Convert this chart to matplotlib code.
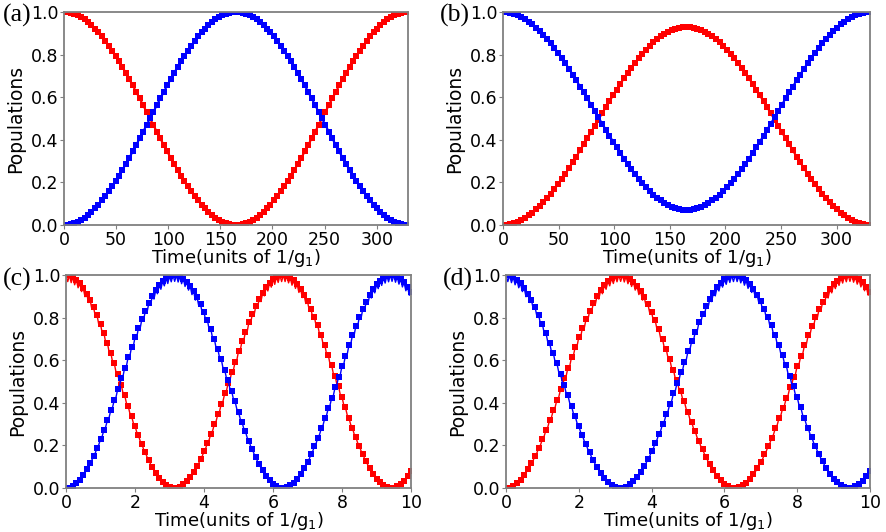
import numpy as np
import matplotlib
matplotlib.use("Agg")
import matplotlib.pyplot as plt

# panel (a): populations vs time (units of 1/g1), 101 samples on 0..330
t_ab = np.linspace(0, 330, 101)
red_a = [1.000, 0.999, 0.996, 0.991, 0.984, 0.976, 0.965, 0.952, 0.938, 0.922,
         0.905, 0.885, 0.864, 0.842, 0.819, 0.794, 0.768, 0.741, 0.713, 0.684,
         0.655, 0.624, 0.594, 0.563, 0.531, 0.500, 0.469, 0.437, 0.406, 0.376,
         0.345, 0.316, 0.287, 0.259, 0.232, 0.206, 0.181, 0.158, 0.136, 0.115,
         0.095, 0.078, 0.062, 0.048, 0.035, 0.024, 0.016, 0.009, 0.004, 0.001,
         0.000, 0.001, 0.004, 0.009, 0.016, 0.024, 0.035, 0.048, 0.062, 0.078,
         0.095, 0.115, 0.136, 0.158, 0.181, 0.206, 0.232, 0.259, 0.287, 0.316,
         0.345, 0.376, 0.406, 0.437, 0.469, 0.500, 0.531, 0.563, 0.594, 0.624,
         0.655, 0.684, 0.713, 0.741, 0.768, 0.794, 0.819, 0.842, 0.864, 0.885,
         0.905, 0.922, 0.938, 0.952, 0.965, 0.976, 0.984, 0.991, 0.996, 0.999,
         1.000]
blue_a = [0.000, 0.001, 0.004, 0.009, 0.016, 0.024, 0.035, 0.048, 0.062, 0.078,
          0.095, 0.115, 0.136, 0.158, 0.181, 0.206, 0.232, 0.259, 0.287, 0.316,
          0.345, 0.376, 0.406, 0.437, 0.469, 0.500, 0.531, 0.563, 0.594, 0.624,
          0.655, 0.684, 0.713, 0.741, 0.768, 0.794, 0.819, 0.842, 0.864, 0.885,
          0.905, 0.922, 0.938, 0.952, 0.965, 0.976, 0.984, 0.991, 0.996, 0.999,
          1.000, 0.999, 0.996, 0.991, 0.984, 0.976, 0.965, 0.952, 0.938, 0.922,
          0.905, 0.885, 0.864, 0.842, 0.819, 0.794, 0.768, 0.741, 0.713, 0.684,
          0.655, 0.624, 0.594, 0.563, 0.531, 0.500, 0.469, 0.437, 0.406, 0.376,
          0.345, 0.316, 0.287, 0.259, 0.232, 0.206, 0.181, 0.158, 0.136, 0.115,
          0.095, 0.078, 0.062, 0.048, 0.035, 0.024, 0.016, 0.009, 0.004, 0.001,
          0.000]

# panel (b)
red_b = [0.000, 0.001, 0.004, 0.008, 0.015, 0.022, 0.033, 0.045, 0.058, 0.073,
         0.088, 0.107, 0.126, 0.147, 0.168, 0.192, 0.216, 0.241, 0.267, 0.294,
         0.321, 0.350, 0.378, 0.406, 0.436, 0.465, 0.494, 0.524, 0.552, 0.580,
         0.609, 0.636, 0.663, 0.689, 0.714, 0.738, 0.762, 0.783, 0.804, 0.823,
         0.842, 0.857, 0.872, 0.885, 0.897, 0.908, 0.915, 0.922, 0.926, 0.929,
         0.930, 0.929, 0.926, 0.922, 0.915, 0.908, 0.897, 0.885, 0.872, 0.857,
         0.842, 0.823, 0.804, 0.783, 0.762, 0.738, 0.714, 0.689, 0.663, 0.636,
         0.609, 0.580, 0.552, 0.524, 0.494, 0.465, 0.436, 0.406, 0.378, 0.350,
         0.321, 0.294, 0.267, 0.241, 0.216, 0.192, 0.168, 0.147, 0.126, 0.107,
         0.088, 0.073, 0.058, 0.045, 0.033, 0.022, 0.015, 0.008, 0.004, 0.001,
         0.000]
blue_b = [1.000, 0.999, 0.996, 0.992, 0.985, 0.978, 0.967, 0.955, 0.942, 0.927,
          0.912, 0.893, 0.874, 0.853, 0.832, 0.808, 0.784, 0.759, 0.733, 0.706,
          0.679, 0.650, 0.622, 0.594, 0.564, 0.535, 0.506, 0.476, 0.448, 0.420,
          0.391, 0.364, 0.337, 0.311, 0.286, 0.262, 0.238, 0.217, 0.196, 0.177,
          0.158, 0.143, 0.128, 0.115, 0.103, 0.092, 0.085, 0.078, 0.074, 0.071,
          0.070, 0.071, 0.074, 0.078, 0.085, 0.092, 0.103, 0.115, 0.128, 0.143,
          0.158, 0.177, 0.196, 0.217, 0.238, 0.262, 0.286, 0.311, 0.337, 0.364,
          0.391, 0.420, 0.448, 0.476, 0.506, 0.535, 0.564, 0.594, 0.622, 0.650,
          0.679, 0.706, 0.733, 0.759, 0.784, 0.808, 0.832, 0.853, 0.874, 0.893,
          0.912, 0.927, 0.942, 0.955, 0.967, 0.978, 0.985, 0.992, 0.996, 0.999,
          1.000]

# panels (c)/(d): markers on 0..10 (step 0.1), line also has the fast dips in between
t_cd = np.linspace(0, 10, 101)
t_cd_line = np.linspace(0, 10, 201)
pop1 = [1.000, 0.998, 0.990, 0.978, 0.961, 0.939, 0.913, 0.882, 0.848, 0.811,
        0.770, 0.727, 0.681, 0.634, 0.585, 0.535, 0.485, 0.436, 0.386, 0.338,
        0.292, 0.248, 0.206, 0.167, 0.131, 0.099, 0.072, 0.048, 0.029, 0.015,
        0.005, 0.000, 0.001, 0.006, 0.017, 0.032, 0.052, 0.076, 0.105, 0.137,
        0.173, 0.213, 0.255, 0.300, 0.346, 0.395, 0.444, 0.494, 0.544, 0.593,
        0.642, 0.689, 0.734, 0.777, 0.817, 0.854, 0.888, 0.917, 0.943, 0.964,
        0.980, 0.992, 0.998, 1.000, 0.997, 0.988, 0.975, 0.957, 0.935, 0.908,
        0.877, 0.842, 0.804, 0.763, 0.719, 0.673, 0.626, 0.577, 0.527, 0.477,
        0.427, 0.378, 0.330, 0.284, 0.240, 0.199, 0.161, 0.126, 0.094, 0.067,
        0.044, 0.026, 0.013, 0.004, 0.000, 0.001, 0.008, 0.019, 0.035, 0.055,
        0.080]
pop1_dip = [0.969, 0.964, 0.954, 0.940, 0.922, 0.898, 0.871, 0.839, 0.805, 0.767,
            0.726, 0.683, 0.638, 0.591, 0.543, 0.495, 0.447, 0.399, 0.351, 0.306,
            0.262, 0.220, 0.181, 0.145, 0.112, 0.083, 0.058, 0.037, 0.021, 0.010,
            0.002, 0.000, 0.003, 0.011, 0.024, 0.041, 0.062, 0.088, 0.117, 0.150,
            0.187, 0.227, 0.269, 0.313, 0.359, 0.407, 0.455, 0.503, 0.551, 0.599,
            0.646, 0.690, 0.733, 0.773, 0.810, 0.845, 0.875, 0.902, 0.925, 0.943,
            0.956, 0.965, 0.969, 0.969, 0.963, 0.952, 0.937, 0.918, 0.894, 0.866,
            0.834, 0.798, 0.760, 0.719, 0.675, 0.630, 0.583, 0.535, 0.487, 0.438,
            0.390, 0.343, 0.298, 0.254, 0.213, 0.175, 0.139, 0.107, 0.078, 0.054,
            0.034, 0.019, 0.008, 0.002, 0.000, 0.004, 0.013, 0.026, 0.044, 0.065]
pop2 = [0.000, 0.002, 0.010, 0.022, 0.039, 0.061, 0.087, 0.118, 0.152, 0.189,
        0.230, 0.273, 0.319, 0.366, 0.415, 0.465, 0.515, 0.564, 0.614, 0.662,
        0.708, 0.752, 0.794, 0.833, 0.869, 0.901, 0.928, 0.952, 0.971, 0.985,
        0.995, 1.000, 0.999, 0.994, 0.983, 0.968, 0.948, 0.924, 0.895, 0.863,
        0.827, 0.787, 0.745, 0.700, 0.654, 0.605, 0.556, 0.506, 0.456, 0.407,
        0.358, 0.311, 0.266, 0.223, 0.183, 0.146, 0.112, 0.083, 0.057, 0.036,
        0.020, 0.008, 0.002, 0.000, 0.003, 0.012, 0.025, 0.043, 0.065, 0.092,
        0.123, 0.158, 0.196, 0.237, 0.281, 0.327, 0.374, 0.423, 0.473, 0.523,
        0.573, 0.622, 0.670, 0.716, 0.760, 0.801, 0.839, 0.874, 0.906, 0.933,
        0.956, 0.974, 0.987, 0.996, 1.000, 0.999, 0.992, 0.981, 0.965, 0.945,
        0.920]
pop2_dip = [0.001, 0.006, 0.016, 0.030, 0.049, 0.072, 0.099, 0.131, 0.165, 0.203,
            0.244, 0.287, 0.332, 0.379, 0.427, 0.475, 0.523, 0.571, 0.619, 0.664,
            0.708, 0.750, 0.789, 0.825, 0.858, 0.887, 0.912, 0.933, 0.949, 0.960,
            0.968, 0.970, 0.967, 0.959, 0.946, 0.929, 0.908, 0.882, 0.853, 0.820,
            0.783, 0.743, 0.701, 0.657, 0.611, 0.563, 0.515, 0.467, 0.419, 0.371,
            0.324, 0.280, 0.237, 0.197, 0.160, 0.125, 0.095, 0.068, 0.045, 0.027,
            0.014, 0.005, 0.001, 0.001, 0.007, 0.018, 0.033, 0.052, 0.076, 0.104,
            0.136, 0.172, 0.210, 0.251, 0.295, 0.340, 0.387, 0.435, 0.483, 0.532,
            0.580, 0.627, 0.672, 0.716, 0.757, 0.795, 0.831, 0.863, 0.892, 0.916,
            0.936, 0.951, 0.962, 0.968, 0.970, 0.966, 0.957, 0.944, 0.926, 0.905]

ticks_ab = [0, 50, 100, 150, 200, 250, 300]
ticks_cd = [0, 2, 4, 6, 8, 10]
y_ticks = [0.0, 0.2, 0.4, 0.6, 0.8, 1.0]


def interleave(pts, dips):
    out = np.empty(len(pts) + len(dips))
    out[0::2] = pts
    out[1::2] = dips
    return out


def style_axis(ax, xmax, xticks):
    ax.set_xlim(0, xmax)
    ax.set_ylim(0, 1.0)
    ax.set_xticks(xticks)
    ax.set_yticks(y_ticks)
    ax.set_yticklabels(['%.1f' % v for v in y_ticks])
    for sp in ax.spines.values():
        sp.set_color('#808080')
        sp.set_linewidth(1.3)
    ax.tick_params(labelsize=12.5, color='#808080', length=3, pad=1)
    ax.set_xlabel('Time(units of 1/g$_1$)', fontsize=13, labelpad=-1)
    ax.set_ylabel('Populations', fontsize=13.5, labelpad=4)


fig = plt.figure(figsize=(8.86, 5.32), dpi=100)
ax_a = fig.add_axes([0.0722, 0.5771, 0.3883, 0.4004])
ax_b = fig.add_axes([0.5677, 0.5771, 0.4142, 0.4004])
ax_c = fig.add_axes([0.0745, 0.0827, 0.3894, 0.4004])
ax_d = fig.add_axes([0.5711, 0.0827, 0.4108, 0.4004])

mk = dict(marker='s', markersize=4.0, markeredgewidth=0, linewidth=1.5)

ax_a.plot(t_ab, red_a, color='red', **mk)
ax_a.plot(t_ab, blue_a, color='blue', **mk)
style_axis(ax_a, 330, ticks_ab)

ax_b.plot(t_ab, red_b, color='red', **mk)
ax_b.plot(t_ab, blue_b, color='blue', **mk)
style_axis(ax_b, 330, ticks_ab)

# (c): red = pop1, blue = pop2 ; (d): colours swapped
for ax, r_pts, r_dip, b_pts, b_dip in [(ax_c, pop1, pop1_dip, pop2, pop2_dip),
                                       (ax_d, pop2, pop2_dip, pop1, pop1_dip)]:
    ax.plot(t_cd_line, interleave(r_pts, r_dip), color='red', linewidth=1.0)
    ax.plot(t_cd, r_pts, color='red', linestyle='none', marker='s',
            markersize=4.0, markeredgewidth=0)
    ax.plot(t_cd_line, interleave(b_pts, b_dip), color='blue', linewidth=1.0)
    ax.plot(t_cd, b_pts, color='blue', linestyle='none', marker='s',
            markersize=4.0, markeredgewidth=0)
    style_axis(ax, 10, ticks_cd)

lab = dict(fontsize=18.5, family='Liberation Serif', va='center', ha='left')
fig.text(0.003, 0.971, '(a)', **lab)
fig.text(0.496, 0.971, '(b)', **lab)
fig.text(0.003, 0.475, '(c)', **lab)
fig.text(0.500, 0.475, '(d)', **lab)

fig.savefig('out.png', dpi=100)
